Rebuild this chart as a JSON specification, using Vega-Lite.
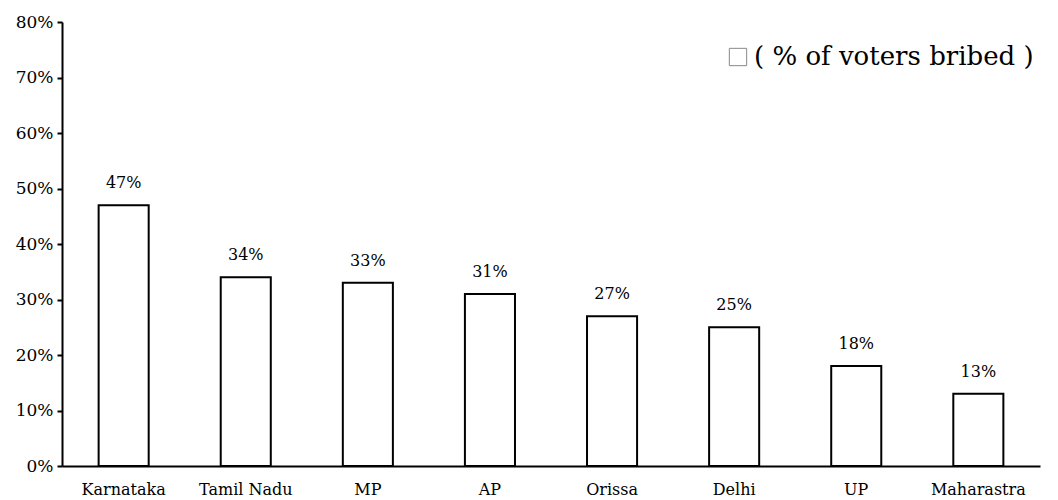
{
  "$schema": "https://vega.github.io/schema/vega-lite/v6.json",
  "autosize": {"type": "none"},
  "width": 978,
  "height": 444,
  "padding": {"left": 62, "top": 22, "right": 18, "bottom": 34},
  "background": "white",
  "config": {
    "view": {"stroke": null},
    "font": "DejaVu Serif"
  },
  "data": {
    "values": [
      {"state": "Karnataka", "pct": 47, "series": "( % of voters bribed )"},
      {"state": "Tamil Nadu", "pct": 34, "series": "( % of voters bribed )"},
      {"state": "MP", "pct": 33, "series": "( % of voters bribed )"},
      {"state": "AP", "pct": 31, "series": "( % of voters bribed )"},
      {"state": "Orissa", "pct": 27, "series": "( % of voters bribed )"},
      {"state": "Delhi", "pct": 25, "series": "( % of voters bribed )"},
      {"state": "UP", "pct": 18, "series": "( % of voters bribed )"},
      {"state": "Maharastra", "pct": 13, "series": "( % of voters bribed )"}
    ]
  },
  "encoding": {
    "x": {
      "field": "state", "type": "nominal", "sort": null,
      "scale": {"paddingInner": 0.59, "paddingOuter": 0.3},
      "axis": {
        "title": null, "labelAngle": 0, "ticks": false,
        "domainColor": "black", "domainWidth": 2,
        "labelFontSize": 16, "labelColor": "black", "labelPadding": 15,
        "labelFont": "DejaVu Serif"
      }
    },
    "y": {
      "field": "pct", "type": "quantitative",
      "scale": {"domain": [0, 80]},
      "axis": {
        "title": null, "values": [0, 10, 20, 30, 40, 50, 60, 70, 80],
        "labelExpr": "datum.value + '%'", "grid": false,
        "domainColor": "black", "domainWidth": 2,
        "tickColor": "black", "tickWidth": 2, "tickSize": 5,
        "labelFontSize": 17, "labelColor": "black", "labelPadding": 4,
        "labelFont": "DejaVu Serif"
      }
    }
  },
  "layer": [
    {
      "mark": {"type": "bar", "stroke": "black", "strokeWidth": 2},
      "encoding": {
        "fill": {
          "field": "series", "type": "nominal",
          "scale": {"range": ["white"]},
          "legend": {
            "title": null, "orient": "none", "legendX": 663, "legendY": 22,
            "symbolType": "square", "symbolSize": 300,
            "symbolStrokeColor": "#888888", "symbolStrokeWidth": 1,
            "labelFontSize": 26, "labelColor": "black", "labelFont": "DejaVu Serif",
            "labelOffset": 3, "labelLimit": 500
          }
        }
      }
    },
    {
      "transform": [{"calculate": "datum.pct + '%'", "as": "lbl"}],
      "mark": {"type": "text", "baseline": "bottom", "dy": -14, "fontSize": 16, "color": "black", "font": "DejaVu Serif"},
      "encoding": {
        "text": {"field": "lbl", "type": "nominal"}
      }
    }
  ]
}
